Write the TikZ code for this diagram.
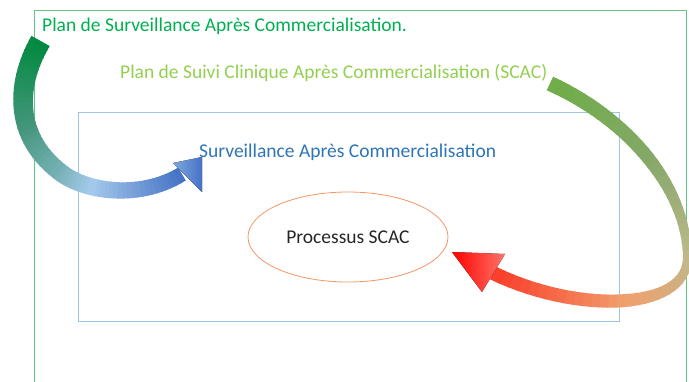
\documentclass[tikz,border=0pt]{standalone}
\usepackage{fontspec}
\setmainfont{Carlito}
\usetikzlibrary{shapes.geometric}

\definecolor{psacgreen}{RGB}{0,176,80}
\definecolor{scacgreen}{RGB}{146,208,80}
\definecolor{sacblue}{RGB}{46,117,182}
\definecolor{outerline}{RGB}{95,200,135}
\definecolor{innerline}{RGB}{157,195,230}
\definecolor{ovalline}{RGB}{240,150,100}
% colour stops, left arrow
\definecolor{la0}{RGB}{0,138,62}
\definecolor{la1}{RGB}{70,150,125}
\definecolor{la2}{RGB}{165,202,236}
\definecolor{la3}{RGB}{70,114,198}
% colour stops, right arrow
\definecolor{ra0}{RGB}{112,173,71}
\definecolor{ra1}{RGB}{132,168,105}
\definecolor{ra2}{RGB}{190,185,140}
\definecolor{ra3}{RGB}{240,160,110}
\definecolor{ra4}{RGB}{250,60,40}

\tikzset{
  heading/.style={anchor=west, inner sep=0pt, font=\fontsize{19.5}{23}\selectfont},
  frame/.style={draw, line width=1.3pt, anchor=north west, inner sep=0pt},
  band/.style={line cap=butt, shorten <=-1.2pt}
}

\begin{document}
\begin{tikzpicture}[x=1pt, y=-1pt]
\useasboundingbox (0,0) rectangle (689,381);

\node[frame, outerline, minimum width=652pt, minimum height=400pt] (psacframe) at (34,10) {};
\node[frame, innerline, minimum width=541pt, minimum height=209pt] (sacframe) at (78,112) {};

\node[heading, text=psacgreen] (psac) at (42,26) {Plan de Surveillance Après Commercialisation.};
\node[heading, text=scacgreen] (pscac) at (120,73) {Plan de Suivi Clinique Après Commercialisation (SCAC)};
\node[heading, text=sacblue] (sac) at (199,152) {Surveillance Après Commercialisation};
\node[draw=ovalline, ellipse, line width=0.8pt, minimum width=200pt, minimum height=90pt,
      font=\fontsize{19.5}{23}\selectfont, text=black!85] (scac) at (348,237) {Processus SCAC};

% left arrow
\coordinate (lstart) at (40,42);
\coordinate (lbend) at (60,172);
\coordinate (lend) at (182,174);
\foreach \i in {0,...,30} {
  \pgfmathsetmacro\t{\i/30}
  \pgfmathtruncatemacro\j{\i+30}
  \path (lstart) .. controls (17,82) and (12,135) .. (lbend) coordinate[pos=\t] (l\i);
  \path (lbend) .. controls (85,192) and (140,200) .. (lend) coordinate[pos=\t] (l\j);
}
\foreach \i in {1,...,60} {
  \pgfmathtruncatemacro\h{\i-1}
  \pgfmathsetmacro\s{3*(\i-0.5)/60}
  \pgfmathtruncatemacro\k{min(floor(\s),2)}
  \pgfmathtruncatemacro\kk{\k+1}
  \pgfmathsetmacro\p{100*(\s-\k)}
  \colorlet{segcol}{la\kk!\p!la\k}
  \pgfmathsetmacro\w{21-6*\i/60}
  \draw[band, line width=\w pt, segcol] (l\h) -- (l\i);
}
\fill[left color=la2!60!la3, right color=la3] (173,163) -- (202,157) -- (202,192) -- cycle;

% right arrow
\coordinate (rstart) at (551,84);
\coordinate (rbend) at (687,258);
\coordinate (rend) at (493,273);
\foreach \i in {0,...,30} {
  \pgfmathsetmacro\t{\i/30}
  \pgfmathtruncatemacro\j{\i+30}
  \path (rstart) .. controls (630,120) and (688,190) .. (rbend) coordinate[pos=\t] (r\i);
  \path (rbend) .. controls (688,310) and (580,315) .. (rend) coordinate[pos=\t] (r\j);
}
\foreach \i in {1,...,60} {
  \pgfmathtruncatemacro\h{\i-1}
  \pgfmathsetmacro\s{4*(\i-0.5)/60}
  \pgfmathtruncatemacro\k{min(floor(\s),3)}
  \pgfmathtruncatemacro\kk{\k+1}
  \pgfmathsetmacro\p{100*(\s-\k)}
  \colorlet{segcol}{ra\kk!\p!ra\k}
  \pgfmathsetmacro\w{{15,13,8,13,14}[\k]*(1-\s+\k)+{15,13,8,13,14}[\kk]*(\s-\k)}
  \draw[band, line width=\w pt, segcol] (r\h) -- (r\i);
}
\fill[left color=red, right color=ra4!70!white] (452,252) -- (505,254) -- (482,292) -- cycle;
\end{tikzpicture}
\end{document}
